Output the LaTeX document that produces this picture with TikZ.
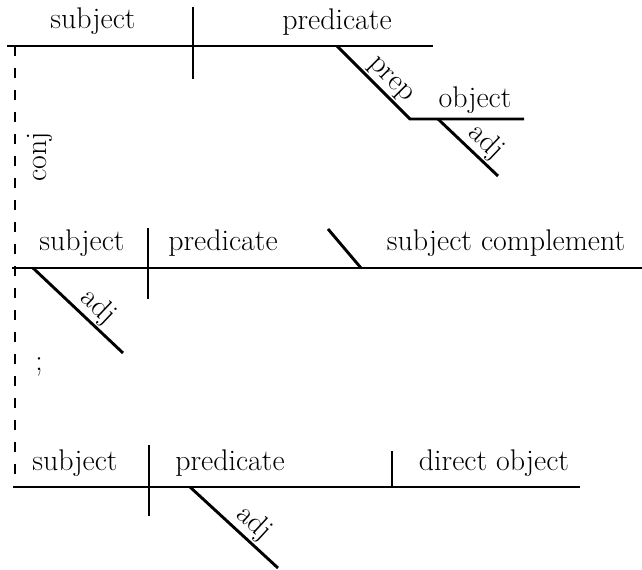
\documentclass[tikz,border=0pt]{standalone}
\begin{document}
\begin{tikzpicture}[x=1bp,y=-1bp,
  rule/.style={line width=2.9bp},
  link/.style={line width=2.6bp, dash pattern=on 10bp off 12bp},
  word/.style={anchor=base, inner sep=0pt, font=\fontsize{30}{32}\selectfont},
  tag/.style={sloped, above, inner sep=1.5bp, font=\fontsize{30}{32}\selectfont}]
\useasboundingbox (0,0) rectangle (642,570);

% ---- first clause ----
\coordinate (aL) at (7,46);
\coordinate (aR) at (433,46);
\coordinate (aDivT) at (193,7);
\coordinate (aDivB) at (193,79);
\coordinate (prepA) at (337,46);
\coordinate (prepB) at (410,119);
\coordinate (objR) at (524,119);
\coordinate (adjAa) at (438,119);
\coordinate (adjAb) at (498,176);

\draw[rule] (aL) -- (aR);
\draw[rule] (aDivT) -- (aDivB);
\draw[rule] (prepA) -- node[tag, pos=0.6] (prep) {prep} (prepB) -- (objR);
\draw[rule] (adjAa) -- node[tag, pos=0.62] (adjA) {adj} (adjAb);

\node[word] (subjA) at (93,29) {subject};
\node[word] (predA) at (337,30) {predicate};
\node[word] (objA) at (475,108) {object};

% ---- second clause ----
\coordinate (bL) at (12,268);
\coordinate (bR) at (642,268);
\coordinate (bDivT) at (148,228);
\coordinate (bDivB) at (148,299);
\coordinate (bSlT) at (328,229);
\coordinate (bSlB) at (361,268);
\coordinate (adjBa) at (33,268);
\coordinate (adjBb) at (123,353);

\draw[rule] (bL) -- (bR);
\draw[rule] (bDivT) -- (bDivB);
\draw[rule] (bSlT) -- (bSlB);
\draw[rule] (adjBa) -- node[tag, pos=0.6] (adjB) {adj} (adjBb);

\node[word] (subjB) at (82,250) {subject};
\node[word] (predB) at (223,250) {predicate};
\node[word] (compB) at (506,250) {subject complement};

% ---- third clause ----
\coordinate (cL) at (13,487);
\coordinate (cR) at (580,487);
\coordinate (cDivT) at (149,445);
\coordinate (cDivB) at (149,516);
\coordinate (cObjT) at (392,451);
\coordinate (cObjB) at (392,487);
\coordinate (adjCa) at (190,487);
\coordinate (adjCb) at (278,568);

\draw[rule] (cL) -- (cR);
\draw[rule] (cDivT) -- (cDivB);
\draw[rule] (cObjT) -- (cObjB);
\draw[rule] (adjCa) -- node[tag, pos=0.6] (adjC) {adj} (adjCb);

\node[word] (subjC) at (75,470) {subject};
\node[word] (predC) at (230,470) {predicate};
\node[word] (dobjC) at (494,470) {direct object};

% ---- joining line ----
\coordinate (joinT) at (15,46);
\coordinate (joinB) at (15,487);
\draw[link] (joinT) -- (joinB);
\node[word, rotate=90] (conj) at (46,157) {conj};
\node[word] (semi) at (39,370) {;};
\end{tikzpicture}
\end{document}
